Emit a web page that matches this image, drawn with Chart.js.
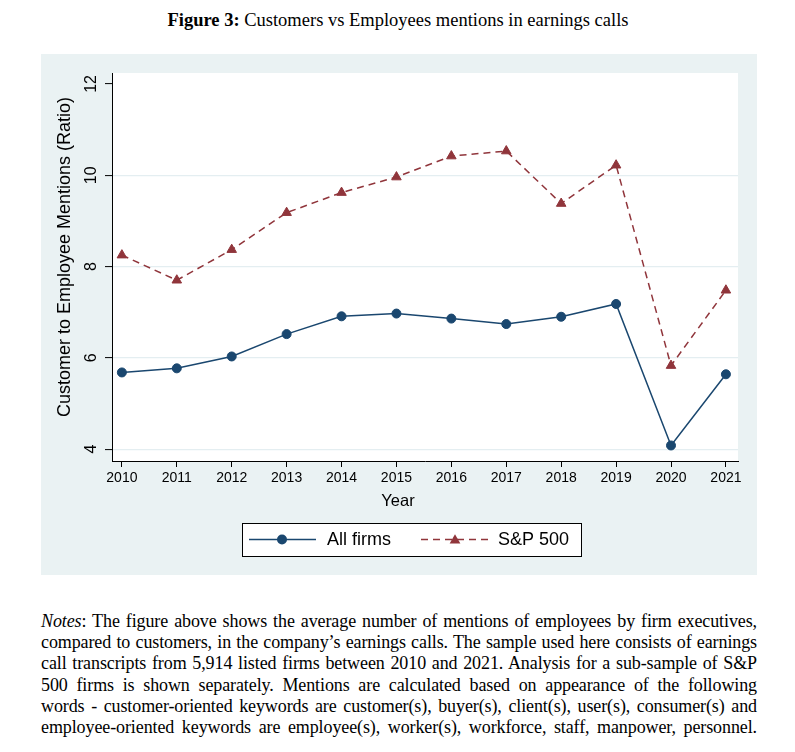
<!DOCTYPE html>
<html>
<head>
<meta charset="utf-8">
<script src="https://cdn.jsdelivr.net/npm/chart.js@4"></script>
<style>
  html, body { margin: 0; padding: 0; background: #fff; }
  body { width: 795px; height: 752px; position: relative; overflow: hidden; }
  #title { position: absolute; left: 0; width: 796px; top: 10px; text-align: center;
           font-family: "Liberation Serif", "Times New Roman", serif; font-size: 18.5px; color: #000; }
  #panel { position: absolute; left: 41px; top: 54px; width: 716px; height: 521px; background: #eaf2f3; }
  #panel canvas { display: block; }
  #notes { position: absolute; left: 41px; top: 611px; width: 716px;
           font-family: "Liberation Serif", "Times New Roman", serif; font-size: 18px; line-height: 21.2px; color: #000;
           letter-spacing: -0.1px; }
  #notes div { text-align: justify; text-align-last: justify; white-space: nowrap; }
</style>
</head>
<body>
<div id="title"><b>Figure 3:</b> Customers vs Employees mentions in earnings calls</div>
<div id="panel"><canvas id="c" width="716" height="521"></canvas></div>
<div id="notes">
  <div><i>Notes</i>: The figure above shows the average number of mentions of employees by firm executives,</div>
  <div>compared to customers, in the company’s earnings calls. The sample used here consists of earnings</div>
  <div>call transcripts from 5,914 listed firms between 2010 and 2021. Analysis for a sub-sample of S&amp;P</div>
  <div>500 firms is shown separately. Mentions are calculated based on appearance of the following</div>
  <div>words - customer-oriented keywords are customer(s), buyer(s), client(s), user(s), consumer(s) and</div>
  <div>employee-oriented keywords are employee(s), worker(s), workforce, staff, manpower, personnel.</div>
</div>
<script>
const years = [2010, 2011, 2012, 2013, 2014, 2015, 2016, 2017, 2018, 2019, 2020, 2021];
const allFirms = [5.68, 5.77, 6.03, 6.52, 6.91, 6.97, 6.86, 6.74, 6.90, 7.18, 4.08, 5.64];
const sp500 = [8.25, 7.70, 8.37, 9.18, 9.62, 9.96, 10.42, 10.53, 9.38, 10.22, 5.83, 7.48];
const yTicks = [4, 6, 8, 10, 12];
const seriesNames = ["All firms", "S&P 500"];
const yTitle = "Customer to Employee Mentions (Ratio)";
const xTitle = "Year";

const NAVY = "#1a476f";
const MAROON = "#90353b";
const SANS = '"Liberation Sans", Arial, sans-serif';

const decor = {
  id: "decor",
  beforeDraw(chart) {
    const { ctx, chartArea: a } = chart;
    ctx.save();
    ctx.fillStyle = "#ffffff";
    ctx.fillRect(a.left, a.top, a.right - a.left, a.bottom - a.top);
    ctx.restore();
  },
  afterDraw(chart) {
    const { ctx, chartArea: a } = chart;
    const ys = chart.scales.y;
    ctx.save();
    ctx.fillStyle = "#000";
    // y tick labels, rotated as in the original
    ctx.font = "16px " + SANS;
    ctx.textAlign = "center";
    ctx.textBaseline = "middle";
    yTicks.forEach(v => {
      const py = ys.getPixelForValue(v);
      ctx.save();
      ctx.translate(a.left - 20, py);
      ctx.rotate(-Math.PI / 2);
      ctx.fillText(String(v), 0, 0);
      ctx.restore();
    });
    // y title
    ctx.font = "18px " + SANS;
    ctx.save();
    ctx.translate(a.left - 47, (a.top + a.bottom) / 2 - 10);
    ctx.rotate(-Math.PI / 2);
    ctx.fillText(yTitle, 0, 0);
    ctx.restore();
    // x title
    ctx.font = "16.5px " + SANS;
    ctx.fillText(xTitle, chart.width / 2 - 1, a.bottom + 40);

    // legend
    const bx = 201, by = 469, bw = 339, bh = 33;
    ctx.fillStyle = "#fff";
    ctx.fillRect(bx, by, bw, bh);
    ctx.strokeStyle = "#000";
    ctx.lineWidth = 1;
    ctx.strokeRect(bx + 0.5, by + 0.5, bw, bh);
    const ly = by + 16.5;
    // sample 1
    ctx.strokeStyle = NAVY; ctx.lineWidth = 1.5;
    ctx.beginPath(); ctx.moveTo(208, ly); ctx.lineTo(275, ly); ctx.stroke();
    ctx.fillStyle = NAVY;
    ctx.beginPath(); ctx.arc(241, ly, 5, 0, Math.PI * 2); ctx.fill();
    // sample 2
    ctx.strokeStyle = MAROON; ctx.setLineDash([7, 5]);
    ctx.beginPath(); ctx.moveTo(380, ly); ctx.lineTo(447, ly); ctx.stroke();
    ctx.setLineDash([]);
    ctx.fillStyle = MAROON;
    const r = 6.2;
    ctx.beginPath();
    for (let k = 0; k < 3; k++) {
      const ang = k * 2 * Math.PI / 3;
      const px = 414 + Math.sin(ang) * r, py = ly - Math.cos(ang) * r + 1;
      k ? ctx.lineTo(px, py) : ctx.moveTo(px, py);
    }
    ctx.closePath(); ctx.fill();
    ctx.fillStyle = "#000";
    ctx.font = "18px " + SANS;
    ctx.textAlign = "left";
    ctx.fillText(seriesNames[0], 286, ly + 1);
    ctx.fillText(seriesNames[1], 457, ly + 1);
    ctx.restore();
  }
};

new Chart(document.getElementById("c"), {
  type: "line",
  data: {
    datasets: [
      {
        label: seriesNames[0],
        data: years.map((x, i) => ({ x, y: allFirms[i] })),
        borderColor: NAVY, backgroundColor: NAVY,
        pointBackgroundColor: NAVY, pointBorderColor: NAVY,
        borderWidth: 1.5, pointRadius: 4.5, pointBorderWidth: 1,
        pointStyle: "circle", tension: 0, fill: false
      },
      {
        label: seriesNames[1],
        data: years.map((x, i) => ({ x, y: sp500[i] })),
        borderColor: MAROON, backgroundColor: MAROON,
        pointBackgroundColor: MAROON, pointBorderColor: MAROON,
        borderWidth: 1.5, borderDash: [7, 5], pointRadius: 5.5, pointBorderWidth: 1,
        pointStyle: "triangle", tension: 0, fill: false
      }
    ]
  },
  options: {
    responsive: false,
    animation: false,
    devicePixelRatio: 1,
    layout: { padding: { left: 0, top: 19, right: 19, bottom: 84 } },
    plugins: { legend: { display: false }, tooltip: { enabled: false }, title: { display: false } },
    scales: {
      x: {
        type: "linear",
        min: 2009.82, max: 2021.22,
        afterBuildTicks: s => { s.ticks = years.map(v => ({ value: v })); },
        afterFit: s => { s.height = 30; },
        grid: { drawOnChartArea: false, drawTicks: true, tickLength: 6, tickColor: "#000", tickWidth: 1 },
        border: { display: true, color: "#000", width: 1 },
        ticks: { color: "#000", font: { family: SANS, size: 14 }, padding: 3, maxRotation: 0, minRotation: 0,
                 callback: v => String(v) }
      },
      y: {
        type: "linear",
        min: 3.74, max: 12.24,
        afterBuildTicks: s => { s.ticks = yTicks.map(v => ({ value: v })); },
        afterFit: s => { s.width = 71; },
        grid: {
          color: c => (c.tick && c.tick.value === 12) ? "rgba(0,0,0,0)" : "#e4eef1",
          lineWidth: 1.2, drawTicks: true, tickLength: 7, tickColor: "#000", tickWidth: 1
        },
        border: { display: true, color: "#000", width: 1 },
        ticks: { display: false }
      }
    }
  },
  plugins: [decor]
});
</script>
</body>
</html>
